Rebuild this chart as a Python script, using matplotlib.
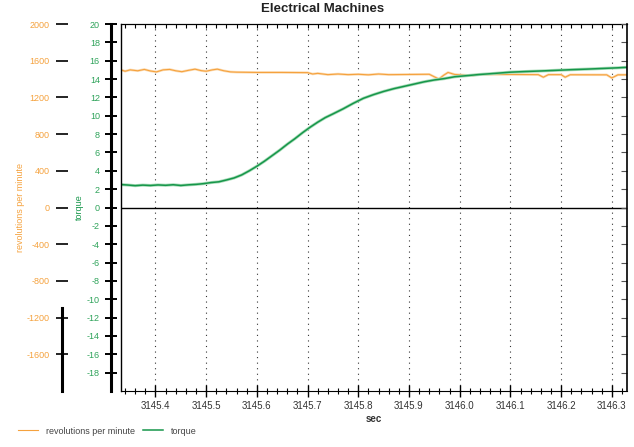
from matplotlib import pyplot
from matplotlib.ticker import MultipleLocator

pyplot.rcParams['font.family'] = ['Liberation Sans', 'DejaVu Sans']
pyplot.rcParams['axes.unicode_minus'] = False

# readings
time_rpm = [3145.332, 3145.340, 3145.350, 3145.365, 3145.378, 3145.390, 3145.402,
            3145.415, 3145.428, 3145.440, 3145.452, 3145.465, 3145.478, 3145.490,
            3145.500, 3145.512, 3145.522, 3145.535, 3145.548, 3145.560, 3145.600,
            3145.650, 3145.700, 3145.710, 3145.720, 3145.740, 3145.760, 3145.780,
            3145.800, 3145.820, 3145.840, 3145.860, 3145.900, 3145.940, 3145.959,
            3145.968, 3145.977, 3145.990, 3146.026, 3146.035, 3146.100, 3146.155,
            3146.165, 3146.175, 3146.200, 3146.208, 3146.218, 3146.290, 3146.300,
            3146.312, 3146.330]
rpm = [1500, 1485, 1500, 1490, 1505, 1488, 1478,
       1500, 1505, 1490, 1480, 1495, 1508, 1492,
       1485, 1500, 1508, 1490, 1478, 1475, 1472,
       1472, 1470, 1455, 1462, 1448, 1455, 1448,
       1452, 1446, 1455, 1448, 1450, 1452, 1400,
       1440, 1472, 1450, 1438, 1450, 1450, 1448,
       1420, 1448, 1448, 1420, 1447, 1446, 1412,
       1446, 1446]

time_torque = [3145.332, 3145.345, 3145.360, 3145.375, 3145.390, 3145.405, 3145.420,
               3145.435, 3145.450, 3145.465, 3145.480, 3145.495, 3145.510, 3145.525,
               3145.540, 3145.555, 3145.570, 3145.585, 3145.600, 3145.615, 3145.630,
               3145.645, 3145.660, 3145.675, 3145.690, 3145.705, 3145.720, 3145.735,
               3145.750, 3145.770, 3145.790, 3145.810, 3145.830, 3145.850, 3145.870,
               3145.890, 3145.910, 3145.930, 3145.950, 3145.970, 3145.990, 3146.010,
               3146.040, 3146.070, 3146.100, 3146.130, 3146.160, 3146.190, 3146.220,
               3146.250, 3146.280, 3146.310, 3146.330]
torque = [2.50, 2.45, 2.38, 2.44, 2.40, 2.46, 2.42,
          2.48, 2.40, 2.47, 2.52, 2.60, 2.72, 2.80,
          3.00, 3.22, 3.55, 4.00, 4.50, 5.05, 5.65,
          6.25, 6.90, 7.50, 8.15, 8.75, 9.30, 9.80,
          10.20, 10.75, 11.35, 11.90, 12.30, 12.65, 12.95,
          13.20, 13.45, 13.70, 13.90, 14.05, 14.25, 14.35,
          14.50, 14.62, 14.75, 14.82, 14.88, 14.95, 15.02,
          15.08, 15.15, 15.22, 15.28]

x_ticks = [3145.4, 3145.5, 3145.6, 3145.7, 3145.8, 3145.9, 3146.0, 3146.1, 3146.2, 3146.3]
x_labels = ['%.1f' % t for t in x_ticks]
rpm_ticks = [-1600, -1200, -800, -400, 0, 400, 800, 1200, 1600, 2000]
torque_ticks = list(range(-18, 21, 2))

orange = '#f5a23e'
green = '#16964a'
W, H = 634, 447

fig = pyplot.figure(figsize=(W / 100, H / 100), dpi=100)
ax = fig.add_axes([121 / W, 1 - 391 / H, 506 / W, 367 / H])

# rpm axis (host), spine pushed far left
ax.set_xlim(3145.332, 3146.330)
ax.set_ylim(-2000, 2000)
ax.spines['left'].set_position(('outward', 42.5))
ax.spines['left'].set_bounds(-2000, -1100)
ax.spines['left'].set_linewidth(2.2)
ax.spines['right'].set_visible(False)
ax.yaxis.set_ticks_position('left')
ax.set_yticks(rpm_ticks)
ax.tick_params(axis='y', direction='inout', length=9, width=1.2, pad=4.5,
               labelsize=6.5, labelcolor=orange)
ax.set_xticks(x_ticks, x_labels)
ax.xaxis.set_minor_locator(MultipleLocator(0.02))
ax.tick_params(axis='x', which='major', direction='inout', length=8, width=1,
               labelsize=7, pad=3, labelcolor='#333333', top=False)
ax.tick_params(axis='x', which='minor', direction='inout', length=4, width=0.8, top=False)
ax.set_xlabel('sec', fontsize=7, fontweight='bold', labelpad=2, color='#333333')
ax.grid(axis='x', which='major', color='#333333', lw=0.8, ls=(0, (1, 4)))
ax.axhline(0, color='black', lw=1)

top = ax.secondary_xaxis('top')
top.set_xticks(x_ticks, [])
top.xaxis.set_minor_locator(MultipleLocator(0.02))
top.tick_params(axis='x', which='both', direction='in', length=3, width=0.8)

ax.plot(time_rpm, rpm, color='#fcdcb4', lw=1.8)
line_rpm, = ax.plot(time_rpm, rpm, color=orange, lw=0.8)

# torque axis, spine just left of the frame
ax_t = ax.twinx()
ax_t.set_ylim(-20, 20)
for side in ['right', 'top', 'bottom']:
    ax_t.spines[side].set_visible(False)
ax_t.spines['left'].set_visible(True)
ax_t.spines['left'].set_position(('outward', 7.2))
ax_t.spines['left'].set_linewidth(2.2)
ax_t.yaxis.set_ticks_position('left')
ax_t.set_yticks(torque_ticks)
ax_t.tick_params(axis='y', direction='inout', length=8, width=1.4, pad=4,
                 labelsize=6.5, labelcolor='#2ea35a')
ax_t.plot(time_torque, torque, color='#a8dcb8', lw=2.2)
line_torque, = ax_t.plot(time_torque, torque, color=green, lw=1.1)

# frame edges and inward ticks on the right
ax_r = ax.twinx()
ax_r.set_ylim(-20, 20)
ax_r.set_yticks(torque_ticks)
ax_r.tick_params(axis='y', direction='in', length=4, width=0.8, labelright=False, color='#555555')
for side in ['top', 'bottom']:
    ax_r.spines[side].set_visible(False)
ax_r.spines['left'].set_linewidth(1.0)
ax_r.spines['right'].set_linewidth(1.2)

fig.text(323 / W, 1 - 8.5 / H, 'Electrical Machines', fontsize=9.5, fontweight='bold',
         ha='center', va='center', color='#222222')
fig.text(20.5 / W, 1 - 207 / H, 'revolutions per minute', rotation=90, fontsize=6.5,
         color=orange, ha='center', va='center')
fig.text(79.5 / W, 1 - 207 / H, 'torque', rotation=90, fontsize=6.5,
         color=green, ha='center', va='center')

fig.legend([line_rpm, line_torque], ['revolutions per minute', 'torque'],
           loc='center left', bbox_to_anchor=(18 / W, 1 - 431 / H), ncol=2,
           frameon=False, fontsize=6.5, handlelength=2.2, handletextpad=0.9,
           columnspacing=0.9, borderpad=0, borderaxespad=0, labelcolor='#444444')

fig.savefig('out.png', dpi=100)
